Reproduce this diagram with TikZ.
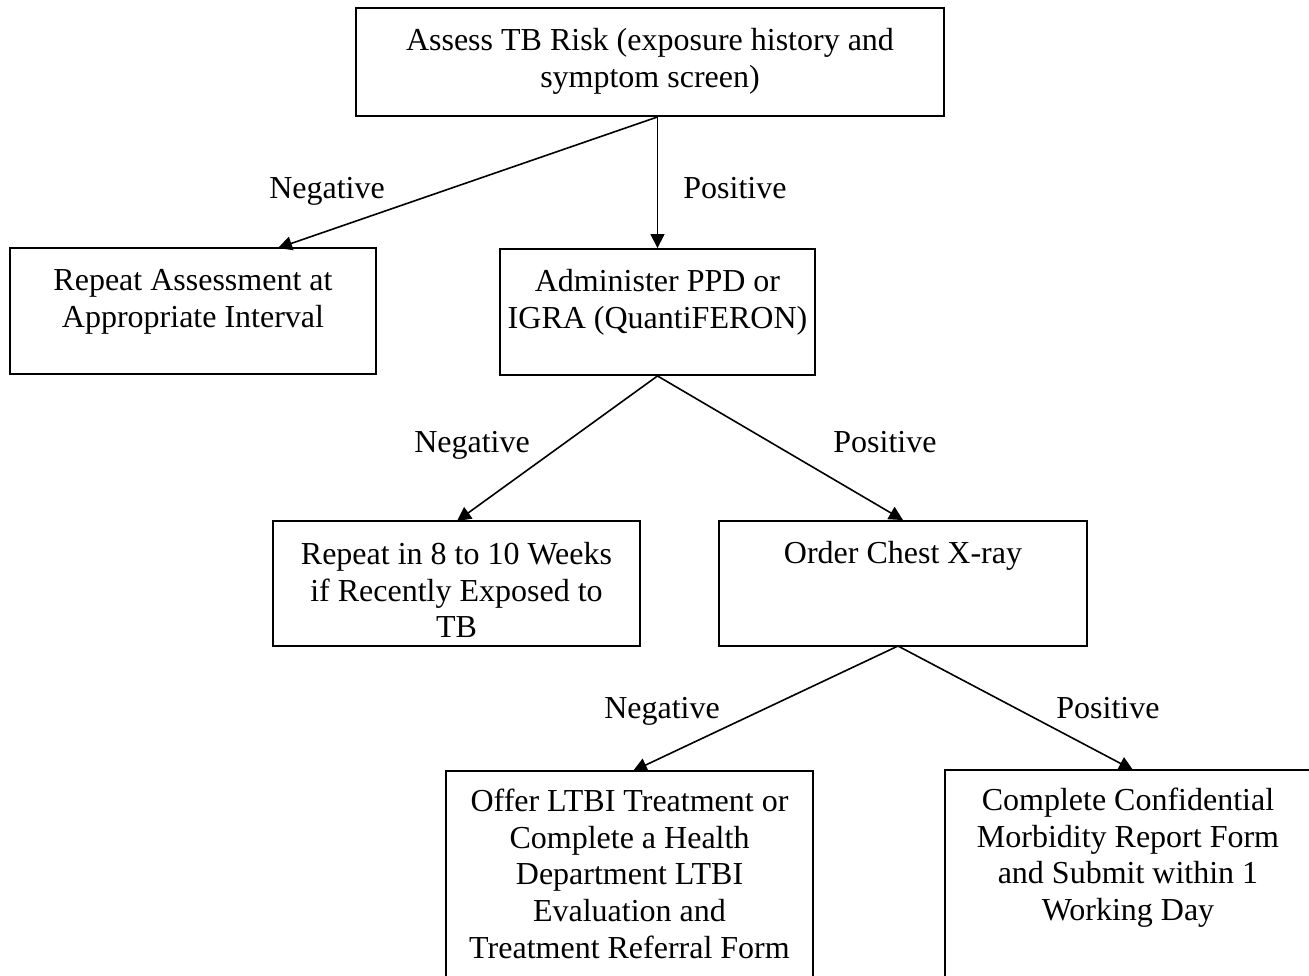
\documentclass[tikz,border=0pt]{standalone}
\usepackage{fontspec}
\setmainfont{Liberation Serif}
\usetikzlibrary{arrows.meta}
\begin{document}
\begin{tikzpicture}[x=1pt,y=-1pt,
  box/.style={draw, line width=1.9pt, inner sep=0pt, rectangle},
  txt/.style={font=\fontsize{32}{36.8}\selectfont, align=center, inner sep=0pt, anchor=north},
  lbl/.style={font=\fontsize{32}{36.8}\selectfont, inner sep=0pt, anchor=base},
  conn/.style={line width=1.6pt, -{Triangle[length=14pt,width=14pt]}},
  plain/.style={line width=1.6pt}]
\useasboundingbox (0,0) rectangle (1309,975);
\clip (0,0) rectangle (1309,975);
\fill[white] (0,0) rectangle (1309,975);

% boxes
\node[box, minimum width=588pt, minimum height=108pt] (assess) at (650,62) {};
\node[box, minimum width=366pt, minimum height=126pt] (repA) at (193,311) {};
\node[box, minimum width=315pt, minimum height=126pt] (admin) at (657.5,312) {};
\node[box, minimum width=367pt, minimum height=125pt] (rep8) at (456.5,583.5) {};
\node[box, minimum width=368pt, minimum height=125pt] (order) at (903,583.5) {};
\node[box, minimum width=367pt, minimum height=260pt] (offer) at (629.5,901) {};
\node[box, minimum width=366pt, minimum height=260pt] (compl) at (1128,900) {};

% texts
\node[txt] (assessT) at ([yshift=-19pt]assess.north) {\rule{0pt}{24pt}Assess TB Risk (exposure history and\\symptom screen)};
\node[txt] (repAT) at ([yshift=-19pt]repA.north) {\rule{0pt}{24pt}Repeat Assessment at\\Appropriate Interval};
\node[txt] (adminT) at ([yshift=-19pt]admin.north) {\rule{0pt}{24pt}Administer PPD or\\IGRA (QuantiFERON)};
\node[txt] (rep8T) at ([yshift=-20pt]rep8.north) {\rule{0pt}{24pt}Repeat in 8 to 10 Weeks\\if Recently Exposed to\\TB};
\node[txt] (orderT) at ([yshift=-19pt]order.north) {\rule{0pt}{24pt}Order Chest X-ray};
\node[txt] (offerT) at ([yshift=-17pt]offer.north) {\rule{0pt}{24pt}Offer LTBI Treatment or\\Complete a Health\\Department LTBI\\Evaluation and\\Treatment Referral Form};
\node[txt] (complT) at ([yshift=-17pt]compl.north) {\rule{0pt}{24pt}Complete Confidential\\Morbidity Report Form\\and Submit within 1\\Working Day};

% connector end points
\coordinate (s1) at (assess.south -| admin.north);
\coordinate (t1) at (278,248);
\coordinate (t3) at (457,521);
\coordinate (s4) at (898,646);
\coordinate (t5) at (633,771);
\coordinate (t6) at (1133,770);

% connectors
\draw[conn] (s1) -- (t1);
\draw[conn] (s1) -- (admin.north);
\draw[conn] (admin.south) -- (t3);
\draw[conn] (admin.south) -- (order.north);
\draw[conn] (s4) -- (t5);
\draw[conn] (s4) -- (t6);

% labels
\node[lbl] (l1) at (327,198) {Negative};
\node[lbl] (l2) at (735,198) {Positive};
\node[lbl] (l3) at (472,452) {Negative};
\node[lbl] (l4) at (885,452) {Positive};
\node[lbl] (l5) at (662,718) {Negative};
\node[lbl] (l6) at (1108,718) {Positive};
\end{tikzpicture}
\end{document}
